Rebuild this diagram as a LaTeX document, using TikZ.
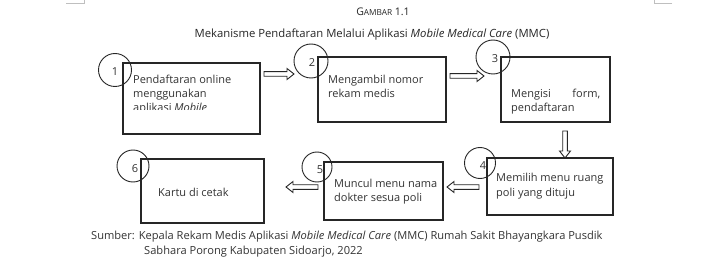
\documentclass[tikz,border=0pt]{standalone}
\usepackage{fontspec}
\setmainfont{Open Sans}
\usetikzlibrary{calc}
\tikzset{
  box/.style={draw=black!85, line width=1.1pt, minimum width=#1, inner sep=0pt},
  num/.style={draw=black!85, circle, line width=0.9pt, inner sep=0pt},
  txt/.style={inner sep=0pt, font=\fontsize{11}{14}\selectfont, align=left, text=black!80},
  barrow/.style={draw=black!85, line width=0.9pt, fill=white},
  cornermark/.style={draw=black!25, line width=0.8pt}
}
\newcommand\barr[3]{%
  \begin{scope}[shift={(#1)},rotate=#2]
    \draw[barrow] (0,-2.3) -- (#3-7,-2.3) -- (#3-7,-5.5) -- (#3,0) -- (#3-7,5.5) -- (#3-7,2.3) -- (0,2.3) -- cycle;
  \end{scope}}
\begin{document}
\begin{tikzpicture}[x=1pt,y=-1pt]
\useasboundingbox (0,0) rectangle (720,267);
\fill[white] (0,0) rectangle (720,267);
% faint page corner marks
\draw[cornermark] (66,3) -- (84,3) -- (84,0);
\draw[cornermark] (672,3) -- (654,3) -- (654,0);
% titles
\node[inner sep=0pt, anchor=base, text=black!85] (gambar) at (383,16) {{\fontsize{10.5}{12}\selectfont G}{\fontsize{8.3}{10}\selectfont AMBAR} {\fontsize{10.5}{12}\selectfont 1.1}};
\node[inner sep=0pt, anchor=base, text=black!85, font=\fontsize{11.3}{12}\selectfont] (judul) at (372,38) {Mekanisme Pendaftaran Melalui Aplikasi \textit{Mobile Medical Care} (MMC)};
% boxes
\node[box=137pt, minimum height=71pt] (b1) at (191.5,98.5) {};
\node[box=128pt, minimum height=65pt] (b2) at (382,89.5) {};
\node[box=109pt, minimum height=65pt] (b3) at (555.5,89.5) {};
\node[box=126pt, minimum height=57pt] (b4) at (550,186.5) {};
\node[box=119pt, minimum height=58pt] (b5) at (383.5,191) {};
\node[box=123pt, minimum height=64pt] (b6) at (202.5,191) {};
% texts (anchored at the baseline of the last line)
\begin{scope}
  \clip (123,63) rectangle (260,110);
  \node[txt, anchor=base west] (t1) at (133,112) {Pendaftaran online\\menggunakan\\aplikasi \textit{Mobile}};
\end{scope}
\node[txt, anchor=base west] (t2) at (328,98) {Mengambil nomor\\rekam medis};
\node[txt, anchor=base west, text width=89pt] (t3) at (511,98) {Mengisi\hfill form,\\pendaftaran};
\begin{scope}
  \clip (486,158) rectangle (613,198);
  \node[txt, anchor=base west] (t4) at (496,196) {Memilih menu ruang\\poli yang dituju};
\end{scope}
\node[txt, anchor=base west] (t5) at (334,201) {Muncul menu nama\\dokter sesua poli};
\node[txt, anchor=base west] (t6) at (158,196) {Kartu di cetak};
% numbered circles
\node[num, minimum size=33pt] (c1) at (115,70) {};
\node[txt, anchor=base] at (115,76) {1};
\node[num, minimum size=34pt] (c2) at (311,61) {};
\node[txt, anchor=base] at (312,67) {2};
\node[num, minimum size=34pt] (c3) at (493,57) {};
\node[txt, anchor=base] at (495,63) {3};
\node[num, minimum size=31pt] (c4) at (480,163) {};
\node[txt, anchor=base] at (483,169) {4};
\node[num, minimum size=30pt] (c5) at (317,167) {};
\node[txt, anchor=base] at (320,173) {5};
\node[num, minimum size=32pt] (c6) at (133,166) {};
\node[txt, anchor=base] at (135,172) {6};
% block arrows
\coordinate (a1) at (264,74);
\coordinate (a2) at (450,76);
\coordinate (a3) at (565,131);
\coordinate (a4) at (479,187);
\coordinate (a5) at (318,187);
\barr{a1}{0}{30}
\barr{a2}{0}{34}
\barr{a3}{-90}{27}
\barr{a4}{180}{32}
\barr{a5}{180}{32}
% source
\node[inner sep=0pt, anchor=base west, text=black!80, font=\fontsize{11.1}{12}\selectfont] (src1) at (91,239) {Sumber: Kepala Rekam Medis Aplikasi \textit{Mobile Medical Care} (MMC) Rumah Sakit Bhayangkara Pusdik};
\node[inner sep=0pt, anchor=base west, text=black!80, font=\fontsize{11.1}{12}\selectfont] (src2) at (144,254) {Sabhara Porong Kabupaten Sidoarjo, 2022};
\end{tikzpicture}
\end{document}
